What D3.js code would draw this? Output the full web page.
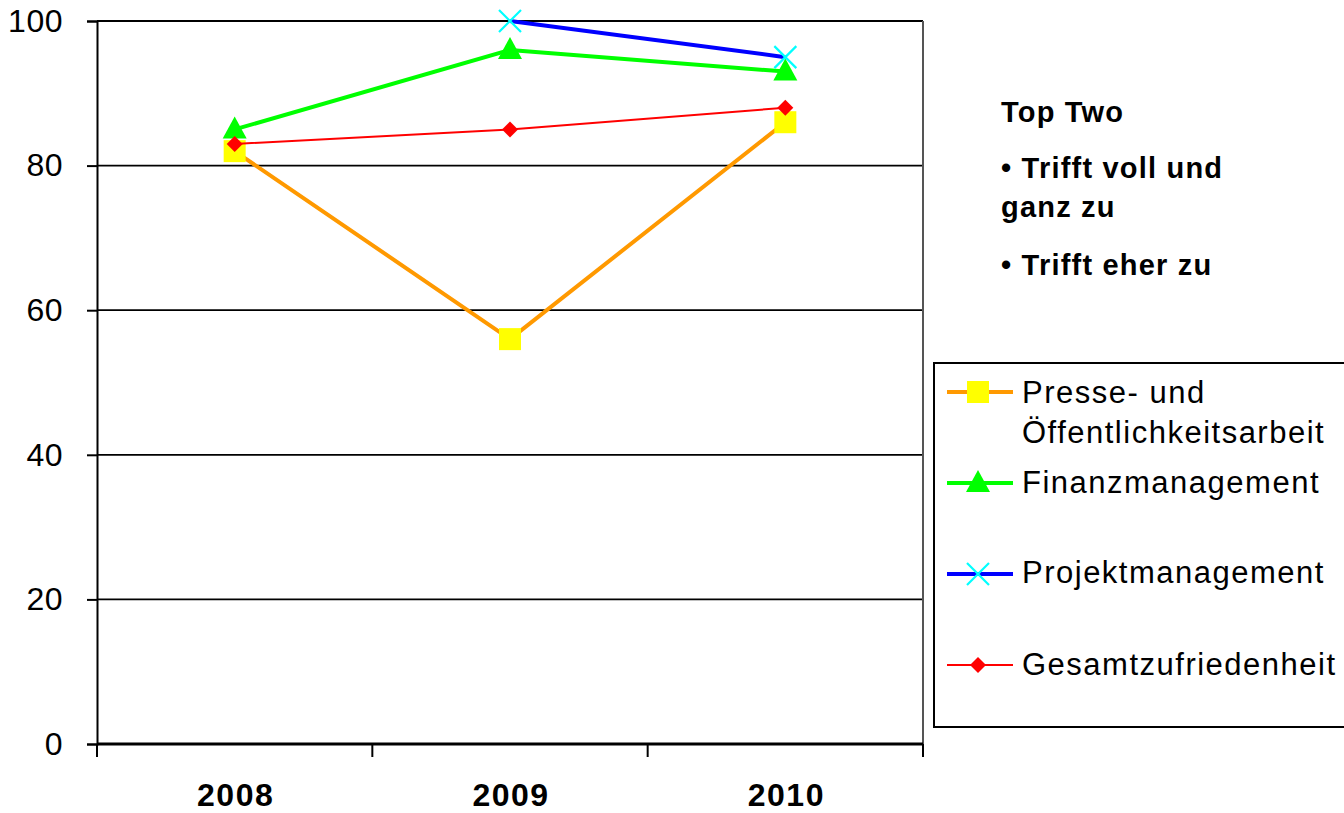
<!DOCTYPE html>
<html><head><meta charset="utf-8">
<script src="https://cdn.jsdelivr.net/npm/d3@7"></script>
<style>body{margin:0;background:#fff}svg{display:block;font-family:Arial,"Liberation Sans",sans-serif}</style>
</head><body>
<svg id="c" width="1344" height="813"></svg>
<script>
const years = ["2008","2009","2010"];
const yTicks = [0,20,40,60,80,100];
const presse = [82,56,86];
const finanz = [85,96,93];
const projekt = [null,100,95];
const gesamt = [83,85,88];
const seriesNames = ["Presse- und Öffentlichkeitsarbeit","Finanzmanagement","Projektmanagement","Gesamtzufriedenheit"];
const noteLines = ["Top Two","• Trifft voll und","ganz zu","• Trifft eher zu"];

const series = [
  {name:seriesNames[0], values:presse, line:"#FF9900", lw:4, marker:"square", fill:"#FFFF00"},
  {name:seriesNames[1], values:finanz, line:"#00FF00", lw:4, marker:"triangle", fill:"#00FF00"},
  {name:seriesNames[2], values:projekt, line:"#0000FF", lw:4, marker:"x", fill:"#00FFFF"},
  {name:seriesNames[3], values:gesamt, line:"#FF0000", lw:2, marker:"diamond", fill:"#FF0000"}
];

const svg = d3.select("#c");
const L=97, R=923, T=21, B=744;
const y = d3.scaleLinear().domain([0,100]).range([B,T]);
const x = d3.scalePoint().domain(years).range([L,R]).padding(0.5);
const xb = d3.scaleBand().domain(years).range([L,R]);

// gridlines
svg.append("g").selectAll("line").data(yTicks.filter(d=>d>0)).join("line")
  .attr("x1",L).attr("x2",R).attr("y1",d=>y(d)).attr("y2",d=>y(d))
  .attr("stroke","#000").attr("stroke-width",1.8);
// right border
svg.append("line").attr("x1",R).attr("x2",R).attr("y1",T).attr("y2",B+13).attr("stroke","#555").attr("stroke-width",2);

// y axis
const ya = svg.append("g").attr("transform",`translate(${L},0)`)
  .call(d3.axisLeft(y).tickValues(yTicks).tickSize(10).tickPadding(24).tickFormat(d3.format("d")));
ya.select(".domain").attr("stroke","#000").attr("stroke-width",2);
ya.selectAll(".tick line").attr("stroke","#000").attr("stroke-width",2);
ya.selectAll("text").attr("font-size",32).attr("letter-spacing",0.5).attr("font-family","Arial,'Liberation Sans',sans-serif").attr("fill","#000");

// x axis
const bounds = years.map(d=>xb(d)).concat([R]);
svg.append("g").selectAll("line").data(bounds).join("line")
  .attr("x1",d=>d).attr("x2",d=>d).attr("y1",B).attr("y2",B+13).attr("stroke","#000").attr("stroke-width",2);
svg.append("line").attr("x1",L).attr("x2",R).attr("y1",B).attr("y2",B).attr("stroke","#000").attr("stroke-width",3);
svg.append("g").selectAll("text").data(years).join("text")
  .attr("x",d=>x(d)+1).attr("y",806).attr("text-anchor","middle")
  .attr("font-size",32).attr("font-weight","bold").attr("letter-spacing",1.5).text(d=>d);

function drawMarker(g, type, fill, cx, cy){
  if(type==="square"){
    g.append("rect").attr("x",cx-11).attr("y",cy-11).attr("width",22).attr("height",22).attr("fill",fill);
  } else if(type==="triangle"){
    g.append("path").attr("d",`M${cx},${cy-13}L${cx+12},${cy+9}L${cx-12},${cy+9}Z`).attr("fill",fill);
  } else if(type==="x"){
    g.append("path").attr("d",`M${cx-11},${cy-11}L${cx+11},${cy+11}M${cx-11},${cy+11}L${cx+11},${cy-11}`)
      .attr("stroke",fill).attr("stroke-width",2.2).attr("fill","none");
  } else if(type==="diamond"){
    g.append("path").attr("d",`M${cx},${cy-8}L${cx+8},${cy}L${cx},${cy+8}L${cx-8},${cy}Z`).attr("fill",fill);
  }
}

const line = d3.line().defined(d=>d.v!=null).x(d=>x(d.year)).y(d=>y(d.v));
series.forEach(s=>{
  const pts = years.map((yr,i)=>({year:yr, v:s.values[i]}));
  const g = svg.append("g");
  g.append("path").attr("d",line(pts)).attr("fill","none").attr("stroke",s.line).attr("stroke-width",s.lw).attr("stroke-linejoin","round");
  pts.filter(p=>p.v!=null).forEach(p=>drawMarker(g,s.marker,s.fill,x(p.year),y(p.v)));
});

// note text
const noteY = [122,178,217,275];
svg.append("g").selectAll("text").data(noteLines).join("text")
  .attr("x",1001).attr("y",(d,i)=>noteY[i]).attr("font-size",29).attr("font-weight","bold").attr("letter-spacing",1.2).text(d=>d);

// legend
svg.append("rect").attr("x",934).attr("y",363).attr("width",420).attr("height",364)
  .attr("fill","#fff").attr("stroke","#000").attr("stroke-width",2);
const legY = [392,483,574,665];
series.forEach((s,i)=>{
  const g = svg.append("g");
  g.append("line").attr("x1",947).attr("x2",1013).attr("y1",legY[i]).attr("y2",legY[i])
    .attr("stroke",s.line).attr("stroke-width",s.lw);
  drawMarker(g,s.marker,s.fill,978,legY[i]);
});
const legText = [["Presse- und","Öffentlichkeitsarbeit"],["Finanzmanagement"],["Projektmanagement"],["Gesamtzufriedenheit"]];
const legBase = [403,493,583,675];
legText.forEach((lines,i)=>{
  const t = svg.append("text").attr("x",1022).attr("y",legBase[i]).attr("font-size",31).attr("letter-spacing",1.5);
  lines.forEach((ln,j)=>t.append("tspan").attr("x",1022).attr("dy",j===0?0:40).text(ln));
});
</script>
</body></html>
